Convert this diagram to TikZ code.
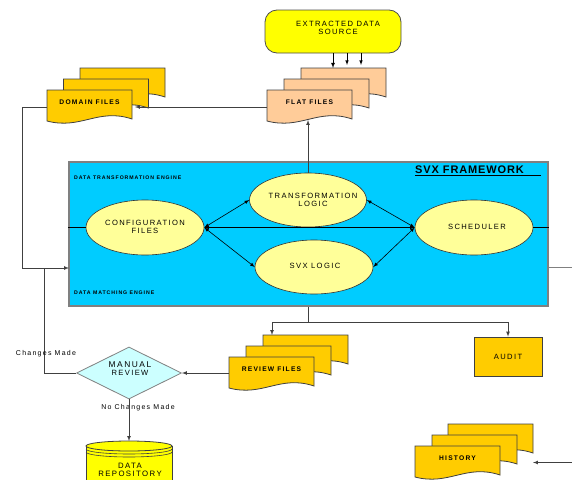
\documentclass[tikz,border=0pt]{standalone}
\usepackage{fontspec}
\setmainfont{Liberation Sans}
\newfontfamily\capsfont{Liberation Sans}[LetterSpace=18]
\newfontfamily\titlefont{Liberation Sans}[LetterSpace=8]
\usetikzlibrary{arrows,shapes.geometric}

\definecolor{srcyellow}{HTML}{FFFF00}
\definecolor{filegold}{HTML}{FFCC00}
\definecolor{flatpeach}{HTML}{FFCC99}
\definecolor{fwcyan}{HTML}{00CCFF}
\definecolor{logicyellow}{HTML}{FFFF99}
\definecolor{reviewcyan}{HTML}{CCFFFF}
\definecolor{edgegray}{HTML}{808080}

\begin{document}
\begin{tikzpicture}[x=1pt,y=-1pt,>=latex]

	\tikzstyle file page=[draw=black!75,line width=0.8pt];
	\tikzstyle caps text=[font=\capsfont\fontsize{7.6}{7.8}\selectfont,align=center,inner sep=0pt];
	\tikzstyle file text=[font=\capsfont\bfseries\fontsize{6.7}{7}\selectfont,inner sep=0pt];
	\tikzstyle engine text=[font=\capsfont\bfseries\fontsize{5.2}{6}\selectfont,anchor=west,inner sep=0pt];
	\tikzstyle note text=[font=\capsfont\fontsize{7}{7}\selectfont,inner sep=0pt];
	\tikzstyle logic=[ellipse,draw=black!80,line width=0.6pt,fill=logicyellow,inner sep=0pt];
	\tikzstyle wire=[draw=black!75,line width=0.7pt];

	\useasboundingbox (0,0) rectangle (572,479);

	% framework box
	\node[draw=edgegray,line width=1.3pt,fill=fwcyan,minimum width=479pt,minimum height=144pt,inner sep=0pt] (fw) at (308.5,234) {};
	\node[font=\titlefont\bfseries\fontsize{11}{12}\selectfont,anchor=west,inner sep=0pt] (svxfw) at (415,170) {SVX FRAMEWORK};
	\draw[line width=1pt] ([yshift=-1.5pt]svxfw.south west) -- ++(126,0);
	\node[engine text] (dte) at (74,178) {DATA TRANSFORMATION ENGINE};
	\node[engine text] (dme) at (74,292.5) {DATA MATCHING ENGINE};

	% logic ellipses
	\node[logic,minimum width=118pt,minimum height=55pt] (conf) at (145,227.5) {};
	\node[caps text] at (145,226.5) {CONFIGURATION\\FILES};
	\node[logic,minimum width=117pt,minimum height=54pt] (tl) at (308,200) {};
	\node[caps text] at (313,199.5) {TRANSFORMATION\\LOGIC};
	\node[logic,minimum width=118pt,minimum height=54pt] (svx) at (314,267) {};
	\node[caps text] at (315,266) {SVX LOGIC};
	\node[logic,minimum width=118pt,minimum height=55pt] (sched) at (474,227.5) {};
	\node[caps text] at (477,227) {SCHEDULER};

	\draw[line width=0.6pt] (conf.west) -- (fw.west |- conf.west);
	\draw[line width=0.6pt] (sched.east) -- (fw.east |- sched.east);
	\draw[line width=0.6pt,<->] (conf.east) -- (tl.west);
	\draw[line width=0.6pt,<->] (conf.east) -- (svx.west);
	\draw[line width=0.6pt,<->] (conf.east) -- (sched.west);
	\draw[line width=0.6pt,<->] (tl.east) -- (sched.west);
	\draw[line width=0.6pt,<->] (svx.east) -- (sched.west);

	% extracted data source
	\node[draw=black!70,line width=0.8pt,fill=srcyellow,rounded corners=12pt,minimum width=136pt,minimum height=43pt] (src) at (333,31.5) {};
	\node[caps text] at (338,27.5) {EXTRACTED DATA\\SOURCE};

	% flat files
	\filldraw[file page,fill=flatpeach,shift={(301,68)}] (0,0) -- (85,0) -- (85,29) .. controls (51,17.6) and (34,40) .. (0,31) -- cycle;
	\filldraw[file page,fill=flatpeach,shift={(284,79)}] (0,0) -- (85,0) -- (85,29) .. controls (51,17.6) and (34,40) .. (0,31) -- cycle;
	\filldraw[file page,fill=flatpeach,shift={(267,90)}] (0,0) -- (85,0) -- (85,29) .. controls (51,17.6) and (34,40) .. (0,31) -- cycle;
	\node[file text] (flat) at (309.5,102) {FLAT FILES};
	\coordinate (flattop) at (333,68);
	\coordinate (flatleft) at (267,107);
	\coordinate (flatbot) at (308,120);

	\draw[line width=0.8pt,->] (src.south) -- (flattop);
	\draw[line width=0.6pt,->] ([xshift=14pt]src.south) -- ([xshift=14pt,yshift=3pt]flattop);
	\draw[line width=0.6pt,->] ([xshift=28pt]src.south) -- ([xshift=28pt,yshift=3pt]flattop);
	\draw[wire,->] (tl.north) -- (flatbot);

	% domain files
	\filldraw[file page,fill=filegold,shift={(80,68)}] (0,0) -- (85,0) -- (85,29) .. controls (51,17.6) and (34,40) .. (0,31) -- cycle;
	\filldraw[file page,fill=filegold,shift={(63.5,79)}] (0,0) -- (85,0) -- (85,29) .. controls (51,17.6) and (34,40) .. (0,31) -- cycle;
	\filldraw[file page,fill=filegold,shift={(47,90)}] (0,0) -- (85,0) -- (85,29) .. controls (51,17.6) and (34,40) .. (0,31) -- cycle;
	\node[file text] (domain) at (89.5,102) {DOMAIN FILES};
	\coordinate (domin) at (135,107);
	\coordinate (domleft) at (47,107);
	\coordinate (fwin) at (69,268);
	\coordinate (join) at (44,268);

	\draw[wire,->] (flatleft) -- (domin);
	\draw[wire,->] (domleft) -- ++(-25,0) |- (fwin);

	% outputs of the framework
	\draw[wire] (fw.south) -- ++(0,16) coordinate (split);
	\coordinate (revtop) at (272,335);
	\node[draw=black!75,line width=0.8pt,fill=filegold,minimum width=68pt,minimum height=39pt,inner sep=0pt] (audit) at (508,356.5) {};
	\node[caps text] at (508,356.5) {AUDIT};
	\draw[wire,->] (split) -| (revtop);
	\draw[wire,->] (split) -| (audit.north);
	\coordinate (fwout) at (572,267);
	\draw[draw=edgegray,line width=0.8pt] (fw.east |- fwout) -- (fwout);

	% review files
	\filldraw[file page,fill=filegold,shift={(263,335)}] (0,0) -- (85,0) -- (85,29) .. controls (51,17.6) and (34,40) .. (0,31) -- cycle;
	\filldraw[file page,fill=filegold,shift={(246,346)}] (0,0) -- (85,0) -- (85,29) .. controls (51,17.6) and (34,40) .. (0,31) -- cycle;
	\filldraw[file page,fill=filegold,shift={(229,357)}] (0,0) -- (85,0) -- (85,29) .. controls (51,17.6) and (34,40) .. (0,31) -- cycle;
	\node[file text] (review) at (271.5,369) {REVIEW FILES};
	\coordinate (revleft) at (229,373);

	% manual review
	\node[diamond,aspect=2,draw=edgegray,line width=0.8pt,fill=reviewcyan,minimum width=105pt,minimum height=52pt,inner sep=0pt] (rev) at (129,373) {};
	\node[caps text] (revtext) at (130,369) {{\fontsize{8.4}{8.4}\selectfont MANUAL}\\REVIEW};
	\draw[wire,->] (revleft) -- (rev.east);
	\draw[wire] (rev.west) -| (join);
	\node[note text] (chg) at (46,354) {Changes Made};
	\node[note text] (nochg) at (138,408) {No Changes Made};

	% data repository
	\filldraw[draw=black!75,line width=0.8pt,fill=srcyellow] (86,446) -- (86,482) -- (172,482) -- (172,446) -- cycle;
	\filldraw[draw=black!75,line width=0.8pt,fill=srcyellow] (129,446) ellipse (43 and 5);
	\draw[black!75,line width=0.6pt] (172,449) arc (0:180:43 and 5);
	\draw[black!75,line width=0.6pt] (172,452) arc (0:180:43 and 5);
	\coordinate (repotop) at (129,441);
	\node[caps text,font=\capsfont\fontsize{7.8}{7.8}\selectfont] (repo) at (130,470) {DATA\\REPOSITORY};
	\draw[wire,->] (rev.south) -- (repotop);

	% history
	\filldraw[file page,fill=filegold,shift={(448,424)}] (0,0) -- (85,0) -- (85,29) .. controls (51,17.6) and (34,40) .. (0,31) -- cycle;
	\filldraw[file page,fill=filegold,shift={(432,435)}] (0,0) -- (85,0) -- (85,29) .. controls (51,17.6) and (34,40) .. (0,31) -- cycle;
	\filldraw[file page,fill=filegold,shift={(415,446)}] (0,0) -- (85,0) -- (85,29) .. controls (51,17.6) and (34,40) .. (0,31) -- cycle;
	\node[file text] (history) at (457.5,458) {HISTORY};
	\coordinate (histsrc) at (572,462.5);
	\coordinate (histin) at (533,462.5);
	\draw[wire,->] (histsrc) -- (histin);

\end{tikzpicture}
\end{document}
